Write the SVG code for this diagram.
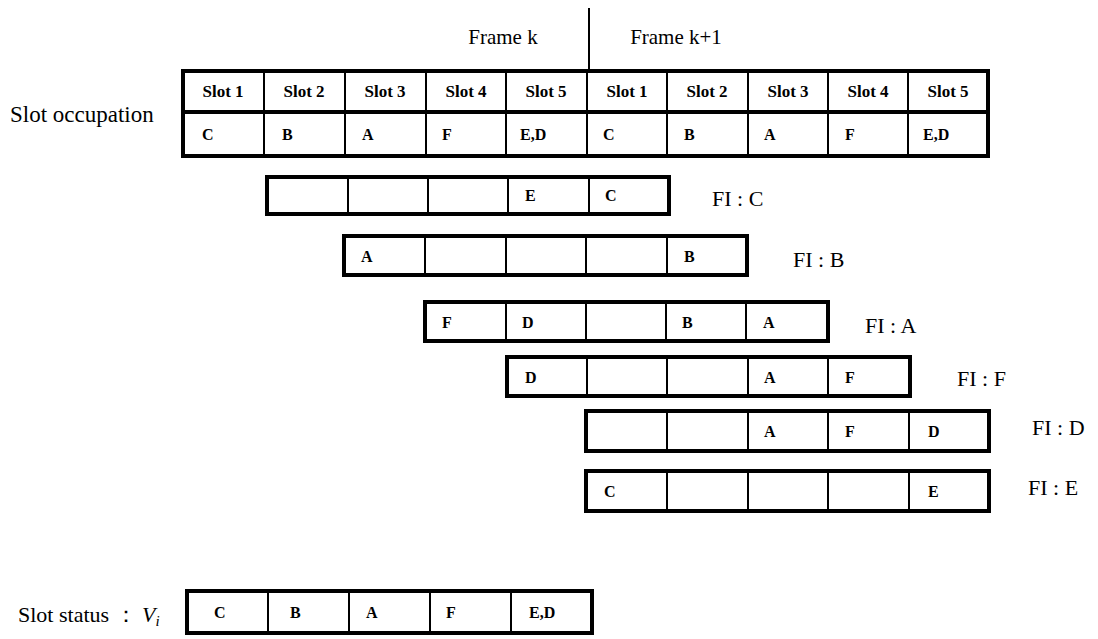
<svg xmlns="http://www.w3.org/2000/svg" width="1098" height="639" viewBox="0 0 1098 639">
<style>
.outer{fill:none;stroke:#000;stroke-width:4}
.div{stroke:#000;stroke-width:2}
.h{font-weight:bold;font-size:17px;text-anchor:middle}
.c{font-weight:bold;font-size:16px}
.lbl{font-size:22px}
</style>
<rect width="1098" height="639" fill="#fff"/>
<g font-family="Liberation Serif, Times New Roman, DejaVu Serif, serif">
<g id="frame-labels">
<line x1="589" y1="8" x2="589" y2="70" class="div"/>
<text x="503" y="44" font-size="21" text-anchor="middle">Frame k</text>
<text x="676" y="44" font-size="21" text-anchor="middle">Frame k+1</text>
</g>
<g id="slot-occupation">
<text x="10" y="122" font-size="23">Slot occupation</text>
<rect x="183" y="71" width="805" height="85" class="outer"/>
<line x1="183" y1="112" x2="988" y2="112" stroke="#000" stroke-width="4"/>
<g class="div">
<line x1="264" y1="71" x2="264" y2="156"/><line x1="345" y1="71" x2="345" y2="156"/>
<line x1="426" y1="71" x2="426" y2="156"/><line x1="506" y1="71" x2="506" y2="156"/>
<line x1="587" y1="71" x2="587" y2="156"/><line x1="667" y1="71" x2="667" y2="156"/>
<line x1="748" y1="71" x2="748" y2="156"/><line x1="828" y1="71" x2="828" y2="156"/>
<line x1="908" y1="71" x2="908" y2="156"/>
</g>
<text x="223" y="97" class="h">Slot 1</text><text x="304" y="97" class="h">Slot 2</text>
<text x="385" y="97" class="h">Slot 3</text><text x="466" y="97" class="h">Slot 4</text>
<text x="546" y="97" class="h">Slot 5</text><text x="627" y="97" class="h">Slot 1</text>
<text x="707" y="97" class="h">Slot 2</text><text x="788" y="97" class="h">Slot 3</text>
<text x="868" y="97" class="h">Slot 4</text><text x="948" y="97" class="h">Slot 5</text>
<text x="202" y="140" class="c">C</text><text x="282" y="140" class="c">B</text>
<text x="362" y="140" class="c">A</text><text x="442" y="140" class="c">F</text>
<text x="520" y="140" class="c">E,D</text><text x="603" y="140" class="c">C</text>
<text x="684" y="140" class="c">B</text><text x="764" y="140" class="c">A</text>
<text x="845" y="140" class="c">F</text><text x="923" y="140" class="c">E,D</text>
</g>
<g id="fi-c">
<rect x="267" y="177" width="402" height="37" class="outer"/>
<g class="div"><line x1="348" y1="177" x2="348" y2="214"/><line x1="428" y1="177" x2="428" y2="214"/><line x1="508" y1="177" x2="508" y2="214"/><line x1="589" y1="177" x2="589" y2="214"/></g>
<text x="525" y="201" class="c">E</text><text x="605" y="201" class="c">C</text>
<text x="712" y="206" class="lbl">FI : C</text>
</g>
<g id="fi-b">
<rect x="344" y="236" width="403" height="39" class="outer"/>
<g class="div"><line x1="425" y1="236" x2="425" y2="275"/><line x1="506" y1="236" x2="506" y2="275"/><line x1="586" y1="236" x2="586" y2="275"/><line x1="667" y1="236" x2="667" y2="275"/></g>
<text x="361" y="262" class="c">A</text><text x="684" y="262" class="c">B</text>
<text x="793" y="267" class="lbl">FI : B</text>
</g>
<g id="fi-a">
<rect x="425" y="302" width="403" height="39" class="outer"/>
<g class="div"><line x1="506" y1="302" x2="506" y2="341"/><line x1="586" y1="302" x2="586" y2="341"/><line x1="666" y1="302" x2="666" y2="341"/><line x1="746" y1="302" x2="746" y2="341"/></g>
<text x="442" y="328" class="c">F</text><text x="522" y="328" class="c">D</text>
<text x="682" y="328" class="c">B</text><text x="763" y="328" class="c">A</text>
<text x="865" y="333" class="lbl">FI : A</text>
</g>
<g id="fi-f">
<rect x="507" y="357" width="403" height="39" class="outer"/>
<g class="div"><line x1="587" y1="357" x2="587" y2="396"/><line x1="667" y1="357" x2="667" y2="396"/><line x1="748" y1="357" x2="748" y2="396"/><line x1="828" y1="357" x2="828" y2="396"/></g>
<text x="525" y="383" class="c">D</text><text x="764" y="383" class="c">A</text>
<text x="845" y="383" class="c">F</text>
<text x="957" y="386" class="lbl">FI : F</text>
</g>
<g id="fi-d">
<rect x="586" y="411" width="403" height="40" class="outer"/>
<g class="div"><line x1="667" y1="411" x2="667" y2="451"/><line x1="748" y1="411" x2="748" y2="451"/><line x1="828" y1="411" x2="828" y2="451"/><line x1="909" y1="411" x2="909" y2="451"/></g>
<text x="764" y="437" class="c">A</text><text x="845" y="437" class="c">F</text>
<text x="928" y="437" class="c">D</text>
<text x="1032" y="435" class="lbl">FI : D</text>
</g>
<g id="fi-e">
<rect x="586" y="471" width="403" height="40" class="outer"/>
<g class="div"><line x1="667" y1="471" x2="667" y2="511"/><line x1="748" y1="471" x2="748" y2="511"/><line x1="828" y1="471" x2="828" y2="511"/><line x1="909" y1="471" x2="909" y2="511"/></g>
<text x="604" y="497" class="c">C</text><text x="928" y="497" class="c">E</text>
<text x="1028" y="495" class="lbl">FI : E</text>
</g>
<g id="slot-status">
<text x="18" y="622" class="lbl">Slot status ： <tspan font-style="italic">V</tspan><tspan font-style="italic" font-size="15" dy="4">i</tspan></text>
<rect x="187" y="591" width="405" height="42" class="outer"/>
<g class="div"><line x1="268" y1="591" x2="268" y2="633"/><line x1="349" y1="591" x2="349" y2="633"/><line x1="430" y1="591" x2="430" y2="633"/><line x1="511" y1="591" x2="511" y2="633"/></g>
<text x="214" y="618" class="c">C</text><text x="290" y="618" class="c">B</text>
<text x="366" y="618" class="c">A</text><text x="446" y="618" class="c">F</text>
<text x="529" y="618" class="c">E,D</text>
</g>
</g>
</svg>
